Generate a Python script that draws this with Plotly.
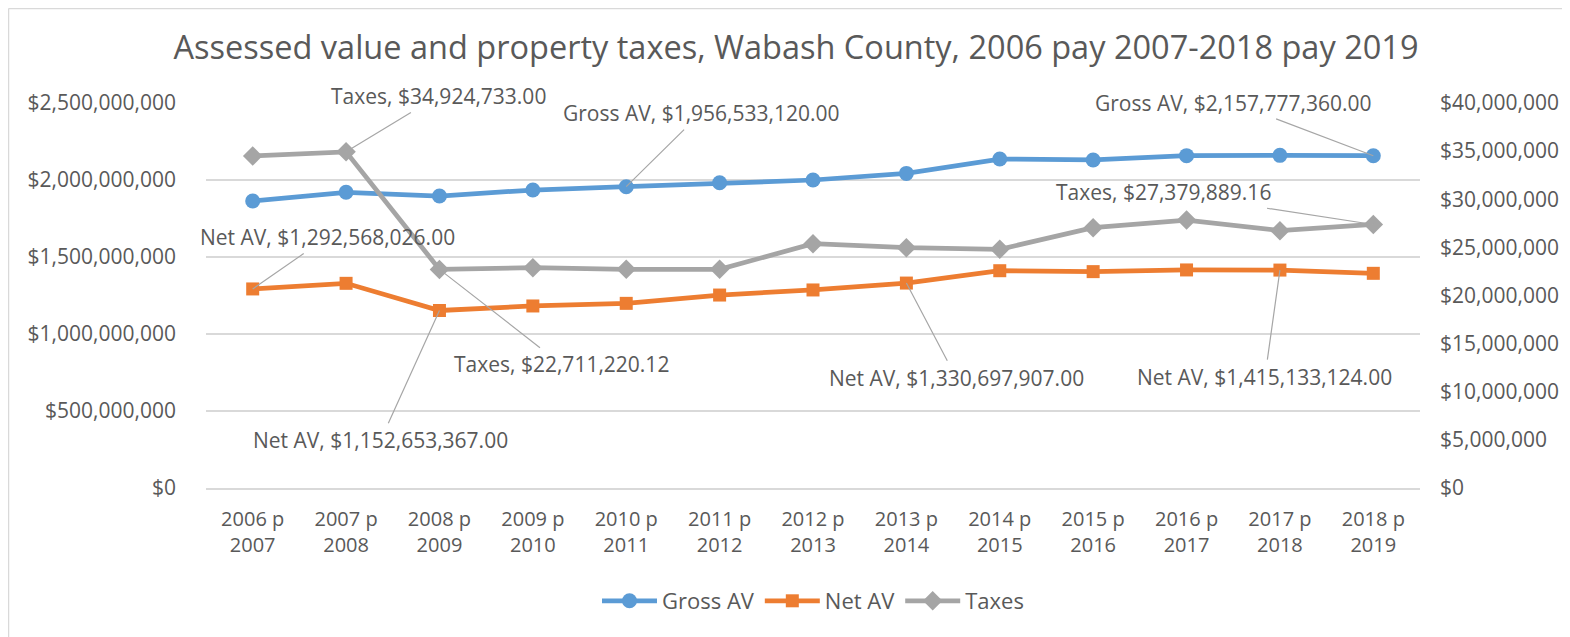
import plotly.graph_objects as go

categories = ["2006 p 2007", "2007 p 2008", "2008 p 2009", "2009 p 2010", "2010 p 2011",
              "2011 p 2012", "2012 p 2013", "2013 p 2014", "2014 p 2015", "2015 p 2016",
              "2016 p 2017", "2017 p 2018", "2018 p 2019"]
tick_labels = [c.replace(" p ", " p<br>") for c in categories]

gross_av = [1864000000, 1920000000, 1896000000, 1935000000, 1956533120, 1982000000,
            2000000000, 2043000000, 2136000000, 2130000000, 2158000000, 2160000000, 2157777360]
net_av = [1292568026, 1329000000, 1152653367, 1182000000, 1199000000, 1253000000,
          1286000000, 1330697907, 1411000000, 1405000000, 1416000000, 1415133124, 1394000000]
taxes = [34490000, 34924733, 22711220.12, 22890000, 22720000, 22720000, 25380000,
         24970000, 24800000, 27050000, 27840000, 26740000, 27379889.16]

# labelled points: (series, index, text, ax, ay)
labels = [
    ("taxes", 1, "Taxes, $34,924,733.00", 92, -56),
    ("gross", 4, "Gross AV, $1,956,533,120.00", 75, -74),
    ("gross", 12, "Gross AV, $2,157,777,360.00", -140, -53),
    ("taxes", 12, "Taxes, $27,379,889.16", -210, -32),
    ("net", 0, "Net AV, $1,292,568,026.00", 75, -52),
    ("taxes", 2, "Taxes, $22,711,220.12", 122, 95),
    ("net", 2, "Net AV, $1,152,653,367.00", -59, 130),
    ("net", 7, "Net AV, $1,330,697,907.00", 50, 95),
    ("net", 11, "Net AV, $1,415,133,124.00", -15, 107),
]

FONT = "Open Sans"
TXT = "#595959"
BLUE, ORANGE, GRAY = "#5B9BD5", "#ED7D31", "#A5A5A5"

fig = go.Figure()
fig.add_trace(go.Scatter(x=categories, y=gross_av, name="Gross AV", mode="lines+markers",
                         line=dict(color=BLUE, width=4.75),
                         marker=dict(symbol="circle", size=15, color=BLUE)))
fig.add_trace(go.Scatter(x=categories, y=net_av, name="Net AV", mode="lines+markers",
                         line=dict(color=ORANGE, width=4.75),
                         marker=dict(symbol="square", size=13, color=ORANGE)))
fig.add_trace(go.Scatter(x=categories, y=taxes, name="Taxes", mode="lines+markers",
                         line=dict(color=GRAY, width=4.75),
                         marker=dict(symbol="diamond", size=15, color=GRAY),
                         yaxis="y2"))

series = {"gross": (gross_av, "y"), "net": (net_av, "y"), "taxes": (taxes, "y2")}
for key, i, text, ax, ay in labels:
    vals, yref = series[key]
    fig.add_annotation(x=categories[i], y=vals[i], xref="x", yref=yref, text=text,
                       showarrow=True, arrowhead=0, arrowwidth=1.2, arrowcolor="#A6A6A6",
                       ax=ax, ay=ay, standoff=0, startstandoff=2,
                       font=dict(family=FONT, size=21, color=TXT))

W, H = 1562, 629
L, R, T, B = 198, 150, 95, 149
pw, ph = W - L - R, H - T - B


def px_x(p):
    return (p - L) / pw


def px_y(p):
    return (H - B - p) / ph


# chart-area border (left and top edges only are visible)
fig.add_shape(type="line", xref="paper", yref="paper",
              x0=px_x(0.5), x1=px_x(0.5), y0=px_y(0.5), y1=px_y(H),
              line=dict(color="#D9D9D9", width=1.5), layer="below")
fig.add_shape(type="line", xref="paper", yref="paper",
              x0=px_x(0.5), x1=px_x(W), y0=px_y(0.5), y1=px_y(0.5),
              line=dict(color="#D9D9D9", width=1.5), layer="below")

fig.update_layout(
    width=W, height=H,
    margin=dict(l=L, r=R, t=T, b=B),
    paper_bgcolor="white", plot_bgcolor="white",
    font=dict(family=FONT, color=TXT, size=20),
    title=dict(text="Assessed value and property taxes, Wabash County, 2006 pay 2007-2018 pay 2019",
               x=788 / W, xref="container", xanchor="center", y=1 - 40 / H, yref="container",
               yanchor="middle", font=dict(family=FONT, size=32.5, color=TXT)),
    xaxis=dict(type="category", tickmode="array", tickvals=categories, ticktext=tick_labels,
               range=[-0.5, len(categories) - 0.5],
               showgrid=False, showline=True, linecolor="#D9D9D9", linewidth=1.5,
               ticks="", tickfont=dict(size=20, color=TXT), ticklabelstandoff=12),
    yaxis=dict(range=[0, 2.5e9], dtick=5e8, tickformat="$,.0f", showgrid=True,
               gridcolor="#D9D9D9", gridwidth=1.5, zeroline=False, showline=False,
               ticks="", tickfont=dict(size=21, color=TXT), ticklabelstandoff=29),
    yaxis2=dict(range=[0, 4e7], dtick=5e6, tickformat="$,.0f", overlaying="y", side="right",
                showgrid=False, zeroline=False, showline=False, ticks="",
                tickfont=dict(size=21, color=TXT), ticklabelstandoff=19),
    legend=dict(orientation="h", x=0.5, xanchor="center", y=px_y(593),
                yanchor="middle", font=dict(size=22, color=TXT), itemwidth=55),
    showlegend=True,
)

fig.write_html("out.html")
